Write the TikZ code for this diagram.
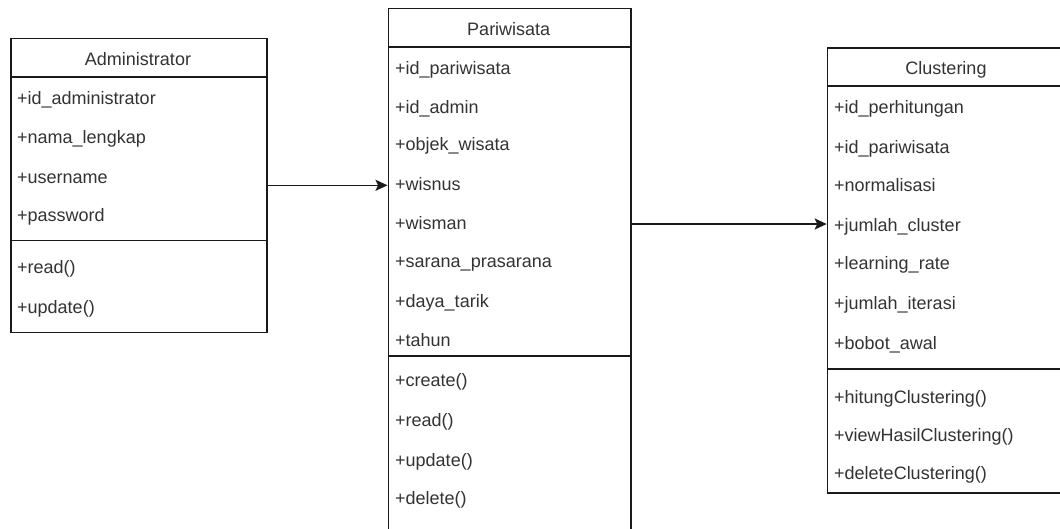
\documentclass[tikz,border=0pt]{standalone}
\usepackage{fontspec}
\setmainfont{Liberation Sans}
\usetikzlibrary{arrows.meta}
\definecolor{txt}{HTML}{333333}
\definecolor{ln}{HTML}{1A1A1A}
\begin{document}
\begin{tikzpicture}[x=1pt,y=-1pt,
  classbox/.style={draw=ln, line width=1.6pt, fill=white, inner sep=0pt, anchor=north west},
  rule/.style={draw=ln, line width=1.6pt},
  attr/.style={anchor=base west, inner sep=0pt, text=txt, font=\fontsize{18}{22}\selectfont},
  title/.style={anchor=base, inner sep=0pt, text=txt, font=\fontsize{18}{22}\selectfont},
  conn/.style={draw=ln, line width=1.6pt, -{Stealth[length=12pt,width=11pt,inset=2.5pt]}}]
\useasboundingbox (0,0) rectangle (1060,528);
\clip (0,0) rectangle (1060,528);
\fill[white] (0,0) rectangle (1060,528);

% Administrator
\node[classbox, minimum width=256pt, minimum height=294pt] (admin) at (10,37.5) {};
\draw[rule] (admin.west |- 0,77) -- (admin.east |- 0,77);
\draw[rule] (admin.west |- 0,240.5) -- (admin.east |- 0,240.5);
\node[title] (adminT) at (138,65) {Administrator};
\node[attr] (a1) at (17,104) {+id\_administrator};
\node[attr] (a2) at (17,143) {+nama\_lengkap};
\node[attr] (a3) at (17,183) {+username};
\node[attr] (a4) at (17,221) {+password};
\node[attr] (a5) at (17,273) {+read()};
\node[attr] (a6) at (17,313) {+update()};

% Pariwisata
\node[classbox, minimum width=242.5pt, minimum height=540pt] (pari) at (387.5,7.5) {};
\draw[rule] (pari.west |- 0,47) -- (pari.east |- 0,47);
\draw[rule] (pari.west |- 0,356) -- (pari.east |- 0,356);
\node[title] (pariT) at (508.75,35) {Pariwisata};
\node[attr] (p1) at (395,74) {+id\_pariwisata};
\node[attr] (p2) at (395,113) {+id\_admin};
\node[attr] (p3) at (395,150) {+objek\_wisata};
\node[attr] (p4) at (395,190) {+wisnus};
\node[attr] (p5) at (395,229) {+wisman};
\node[attr] (p6) at (395,267) {+sarana\_prasarana};
\node[attr] (p7) at (395,307) {+daya\_tarik};
\node[attr] (p8) at (395,346) {+tahun};
\node[attr] (p9) at (395,386) {+create()};
\node[attr] (p10) at (395,426) {+read()};
\node[attr] (p11) at (395,466) {+update()};
\node[attr] (p12) at (395,504) {+delete()};

% Clustering
\node[classbox, minimum width=240pt, minimum height=445pt] (clus) at (826.7,47) {};
\draw[rule] (clus.west |- 0,86) -- (clus.east |- 0,86);
\draw[rule] (clus.west |- 0,369) -- (clus.east |- 0,369);
\node[title] (clusT) at (946,74) {Clustering};
\node[attr] (c1) at (834,113) {+id\_perhitungan};
\node[attr] (c2) at (834,153) {+id\_pariwisata};
\node[attr] (c3) at (834,191) {+normalisasi};
\node[attr] (c4) at (834,231) {+jumlah\_cluster};
\node[attr] (c5) at (834,269) {+learning\_rate};
\node[attr] (c6) at (834,309) {+jumlah\_iterasi};
\node[attr] (c7) at (834,349) {+bobot\_awal};
\node[attr] (c8) at (834,403) {+hitungClustering()};
\node[attr] (c9) at (834,441) {+viewHasilClustering()};
\node[attr] (c10) at (834,479) {+deleteClustering()};

% connectors
\draw[conn] (admin.east) -- (admin.east -| pari.west);
\draw[conn] ([yshift=-216.5pt]pari.north east) -- ([yshift=-216.5pt]pari.north east -| clus.west);
\end{tikzpicture}
\end{document}
